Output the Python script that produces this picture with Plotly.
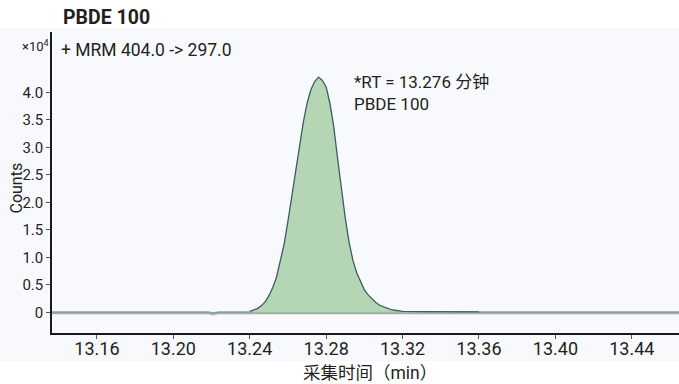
import plotly.graph_objects as go

# ---- data (counts in units of 1e4) ----
peak_time = [13.240, 13.242, 13.244, 13.246, 13.248, 13.250, 13.252, 13.254, 13.256, 13.258,
             13.260, 13.262, 13.264, 13.266, 13.268, 13.270, 13.272, 13.274, 13.276, 13.278,
             13.280, 13.282, 13.284, 13.286, 13.288, 13.290, 13.292, 13.294, 13.296, 13.298,
             13.300, 13.302, 13.304, 13.306, 13.308, 13.310, 13.312, 13.314, 13.316, 13.318,
             13.320, 13.330, 13.340, 13.350, 13.360]
peak_counts = [0.02, 0.04, 0.07, 0.12, 0.19, 0.30, 0.45, 0.64, 0.92, 1.24,
               1.66, 2.13, 2.60, 3.05, 3.45, 3.80, 4.05, 4.20, 4.28, 4.22,
               4.10, 3.80, 3.37, 2.80, 2.22, 1.72, 1.28, 0.95, 0.72, 0.55,
               0.41, 0.32, 0.24, 0.18, 0.13, 0.10, 0.07, 0.05, 0.04, 0.03,
               0.02, 0.015, 0.012, 0.01, 0.01]
base_time = [13.1365, 13.218, 13.221, 13.224, 13.360, 13.4647]
base_counts = [0.0, 0.0, -0.02, 0.0, 0.0, 0.0]

y_tickvals = [0, 0.5, 1.0, 1.5, 2.0, 2.5, 3.0, 3.5, 4.0]
y_ticktext = ["0", "0.5", "1.0", "1.5", "2.0", "2.5", "3.0", "3.5", "4.0"]
x_tickvals = [13.16, 13.20, 13.24, 13.28, 13.32, 13.36, 13.40, 13.44]
x_ticktext = ["13.16", "13.20", "13.24", "13.28", "13.32", "13.36", "13.40", "13.44"]

title_text = "PBDE 100"
mrm_text = "+ MRM 404.0 -> 297.0"
rt_text = "*RT = 13.276 分钟<br>PBDE 100"
rt_time = 13.2934
rt_level = 3.99
x_title = "采集时间（min）"
y_title = "Counts"

FONT = "Roboto, Noto Sans CJK SC, sans-serif"
TXT = "#231f20"

def f(size, bold=False):
    d = dict(size=size, family=FONT, color=TXT)
    if bold:
        d["weight"] = "bold"
    return d

L, R, T, B = 52, 0, 32, 51
W = 679 - L - R
H = 384 - T - B
def px(x):
    return (x - L) / W
def py(y):
    return (384 - B - y) / H

fig = go.Figure()

# faint pinkish line under baseline
fig.add_trace(go.Scatter(x=base_time, y=[v - 0.03 for v in base_counts], mode="lines",
                         line=dict(color="rgba(236,190,170,0.6)", width=1.5),
                         hoverinfo="skip", showlegend=False))
# grey baseline
fig.add_trace(go.Scatter(x=base_time, y=base_counts, mode="lines",
                         line=dict(color="#8e9ca3", width=2.4),
                         hoverinfo="skip", showlegend=False))
# peak
fig.add_trace(go.Scatter(x=peak_time, y=peak_counts, mode="lines", fill="tozeroy",
                         fillcolor="rgba(176,212,176,0.95)",
                         line=dict(color="#3f5c63", width=1.3),
                         showlegend=False))

fig.update_layout(
    width=679, height=384,
    margin=dict(l=L, r=R, t=T, b=B, autoexpand=False),
    paper_bgcolor="white",
    plot_bgcolor="#fafbfd",
    font=f(15),
    showlegend=False,
    shapes=[dict(type="rect", xref="paper", yref="paper", layer="below",
                 x0=px(0), x1=px(679), y0=py(361), y1=py(28),
                 fillcolor="#f8f9fc", line=dict(width=0))],
    xaxis=dict(range=[13.1365, 13.4647], tickvals=x_tickvals, ticktext=x_ticktext,
               automargin=False, ticklabelstandoff=-5,
               showgrid=False, zeroline=False, showline=True, linecolor="#1a1a1a", linewidth=1.5,
               ticks="outside", ticklen=4, tickcolor="#555", tickwidth=1,
               tickfont=f(18)),
    yaxis=dict(range=[-0.374, 5.10], tickvals=y_tickvals, ticktext=y_ticktext,
               automargin=False,
               showgrid=False, zeroline=False, showline=True, linecolor="#1a1a1a", linewidth=1.5,
               ticks="outside", ticklen=4, tickcolor="#555", tickwidth=1,
               tickfont=f(15)),
    annotations=[
        dict(text=title_text, xref="paper", yref="paper", x=px(61), y=py(18),
             xanchor="left", yanchor="middle", showarrow=False, font=f(19.5, True)),
        dict(text="×10<sup>4</sup>", xref="paper", yref="paper", x=px(51), y=py(36),
             xanchor="right", yanchor="top", showarrow=False, font=f(13)),
        dict(text=mrm_text, xref="paper", yref="paper", x=px(59), y=py(50),
             xanchor="left", yanchor="middle", showarrow=False, font=f(17.5)),
        dict(text=rt_text, xref="x", yref="y", x=rt_time, y=rt_level, showarrow=False, align="left",
             xanchor="left", yanchor="middle", font=f(17)),
        dict(text=x_title, xref="paper", yref="paper", x=px(370), y=py(373),
             xanchor="center", yanchor="middle", showarrow=False, font=f(17.5)),
        dict(text=y_title, xref="paper", yref="paper", x=px(15.5), y=py(188),
             xanchor="center", yanchor="middle", textangle=-90, showarrow=False, font=f(16)),
    ],
)

post = ("var s=document.createElement('style');"
        "s.textContent='html,body{margin:0;padding:0;overflow:hidden}';"
        "document.head.appendChild(s);")

fig.write_html("out.html", post_script=post, config={"displayModeBar": False})
